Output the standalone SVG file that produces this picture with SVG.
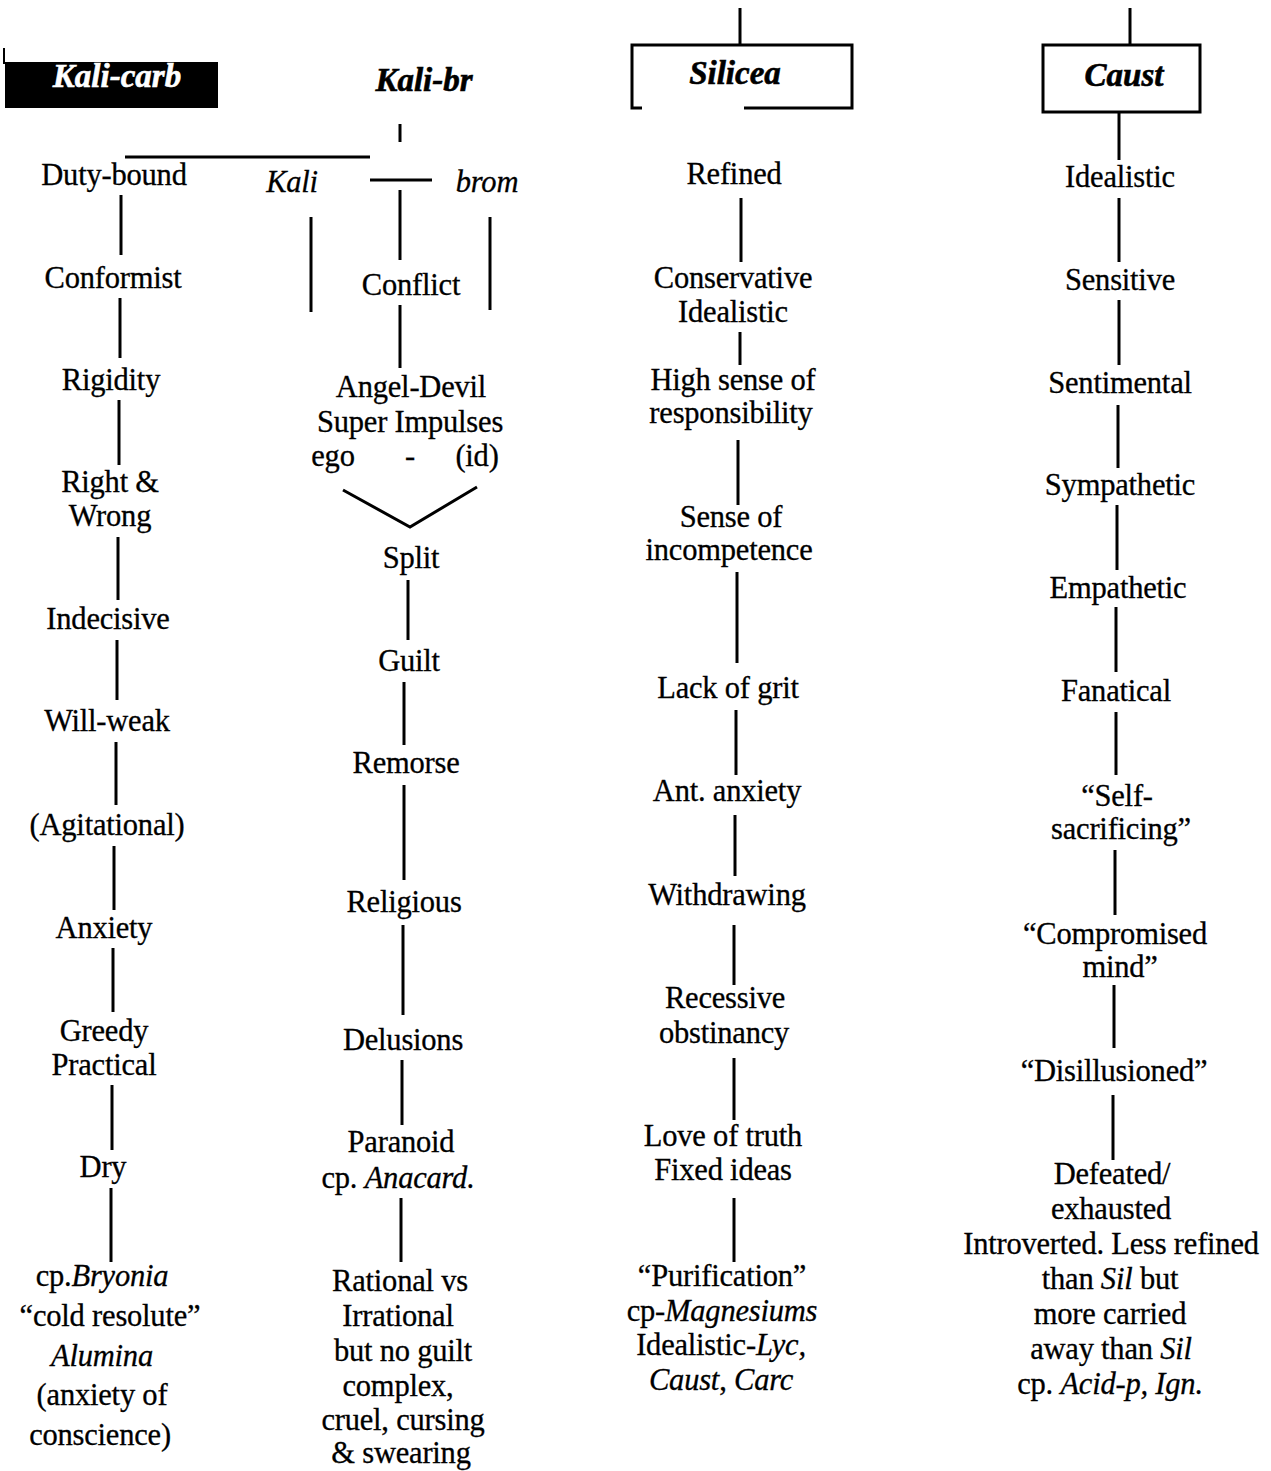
<svg xmlns="http://www.w3.org/2000/svg" width="1271" height="1471" viewBox="0 0 1271 1471">
<style>
text{font-family:"Liberation Serif","Times New Roman",serif;font-size:30.5px;fill:#000;text-anchor:middle;letter-spacing:-0.2px;stroke:#000;stroke-width:0.3}
.h{font-weight:bold;font-style:italic;font-size:33px;letter-spacing:0;stroke-width:0.6}
.i{font-style:italic}
.w{fill:#fff;stroke:#fff}
.c line,.c polyline{stroke:#000;stroke-width:3;fill:none}
.box{fill:none;stroke:#000;stroke-width:3}
</style>
<rect width="1271" height="1471" fill="#fff"/>
<g id="kali-carb"><rect x="5" y="62" width="213" height="46" fill="#000"/><line x1="4" y1="48" x2="4" y2="64" stroke="#000" stroke-width="2"/><text class="h w" x="117" y="87">Kali-carb</text></g>
<g id="kali-br"><text class="h" x="424" y="91">Kali-br</text></g>
<g id="silicea"><polyline class="box" points="642,108 632,108 632,45 852,45 852,108 744,108"/><text class="h" x="735" y="84">Silicea</text></g>
<g id="caust"><rect class="box" x="1043" y="45" width="157" height="67"/><text class="h" x="1124" y="86">Caust</text></g>

<g class="c" id="connectors">
<line x1="740" y1="8" x2="740" y2="45"/>
<line x1="1130" y1="8" x2="1130" y2="45"/>
<line x1="1119" y1="112" x2="1119" y2="160"/>
<line x1="125" y1="157" x2="370" y2="157" stroke-width="4"/>
<line x1="400" y1="124" x2="400" y2="142"/>
<line x1="370" y1="180" x2="432" y2="180"/>
<line x1="400" y1="190" x2="400" y2="260"/>
<line x1="311" y1="217" x2="311" y2="312"/>
<line x1="490" y1="217" x2="490" y2="310"/>
<line x1="400" y1="305" x2="400" y2="368"/>
<polyline points="343,490 410,527 477,487"/>
<line x1="408" y1="580" x2="408" y2="640"/>
<line x1="404" y1="682" x2="404" y2="745"/>
<line x1="404" y1="785" x2="404" y2="880"/>
<line x1="403" y1="925" x2="403" y2="1015"/>
<line x1="402" y1="1060" x2="402" y2="1125"/>
<line x1="401" y1="1198" x2="401" y2="1262"/>
<line x1="121" y1="195" x2="121" y2="255"/>
<line x1="120" y1="298" x2="120" y2="358"/>
<line x1="119" y1="400" x2="119" y2="465"/>
<line x1="118" y1="537" x2="118" y2="600"/>
<line x1="117" y1="640" x2="117" y2="700"/>
<line x1="116" y1="742" x2="116" y2="805"/>
<line x1="114" y1="846" x2="114" y2="910"/>
<line x1="113" y1="948" x2="113" y2="1012"/>
<line x1="112" y1="1085" x2="112" y2="1150"/>
<line x1="111" y1="1188" x2="111" y2="1262"/>
<line x1="741" y1="198" x2="741" y2="262"/>
<line x1="740" y1="332" x2="740" y2="365"/>
<line x1="738" y1="440" x2="738" y2="505"/>
<line x1="737" y1="572" x2="737" y2="663"/>
<line x1="736" y1="710" x2="736" y2="775"/>
<line x1="735" y1="815" x2="735" y2="876"/>
<line x1="734" y1="925" x2="734" y2="985"/>
<line x1="734" y1="1058" x2="734" y2="1120"/>
<line x1="734" y1="1198" x2="734" y2="1262"/>
<line x1="1119" y1="198" x2="1119" y2="262"/>
<line x1="1119" y1="300" x2="1119" y2="365"/>
<line x1="1118" y1="405" x2="1118" y2="468"/>
<line x1="1117" y1="505" x2="1117" y2="570"/>
<line x1="1116" y1="607" x2="1116" y2="672"/>
<line x1="1116" y1="712" x2="1116" y2="775"/>
<line x1="1115" y1="850" x2="1115" y2="915"/>
<line x1="1114" y1="985" x2="1114" y2="1048"/>
<line x1="1113" y1="1095" x2="1113" y2="1160"/>
</g>

<g id="c1-duty"><text x="114" y="185">Duty-bound</text></g>
<g id="c1-conformist"><text x="113" y="288">Conformist</text></g>
<g id="c1-rigidity"><text x="111" y="390">Rigidity</text></g>
<g id="c1-right"><text x="110" y="492">Right &amp;</text><text x="110" y="526">Wrong</text></g>
<g id="c1-indecisive"><text x="108" y="629">Indecisive</text></g>
<g id="c1-willweak"><text x="107" y="731">Will-weak</text></g>
<g id="c1-agitational"><text x="107" y="835">(Agitational)</text></g>
<g id="c1-anxiety"><text x="104" y="938">Anxiety</text></g>
<g id="c1-greedy"><text x="104" y="1041">Greedy</text><text x="104" y="1075">Practical</text></g>
<g id="c1-dry"><text x="103" y="1177">Dry</text></g>
<g id="c1-bryonia"><text x="102" y="1286">cp.<tspan class="i">Bryonia</tspan></text><text x="110" y="1326">“cold resolute”</text><text class="i" x="102" y="1366">Alumina</text><text x="102" y="1405">(anxiety of</text><text x="100" y="1445">conscience)</text></g>

<g id="c2-kali"><text class="i" x="292" y="192">Kali</text></g>
<g id="c2-brom"><text class="i" x="487" y="192">brom</text></g>
<g id="c2-conflict"><text x="411" y="295">Conflict</text></g>
<g id="c2-angel"><text x="411" y="397">Angel-Devil</text><text x="410" y="432">Super Impulses</text><text x="333" y="466">ego</text><text x="410" y="466">-</text><text x="477" y="466">(id)</text></g>
<g id="c2-split"><text x="411" y="568">Split</text></g>
<g id="c2-guilt"><text x="409" y="671">Guilt</text></g>
<g id="c2-remorse"><text x="406" y="773">Remorse</text></g>
<g id="c2-religious"><text x="404" y="912">Religious</text></g>
<g id="c2-delusions"><text x="403" y="1050">Delusions</text></g>
<g id="c2-paranoid"><text x="401" y="1152">Paranoid</text><text x="398" y="1188">cp. <tspan class="i">Anacard.</tspan></text></g>
<g id="c2-rational"><text x="400" y="1291">Rational vs</text><text x="398" y="1326">Irrational</text><text x="403" y="1361">but no guilt</text><text x="398" y="1396">complex,</text><text x="403" y="1430">cruel, cursing</text><text x="401" y="1463">&amp; swearing</text></g>

<g id="c3-refined"><text x="734" y="184">Refined</text></g>
<g id="c3-conservative"><text x="733" y="288">Conservative</text><text x="733" y="322">Idealistic</text></g>
<g id="c3-high"><text x="733" y="390">High sense of</text><text x="731" y="423">responsibility</text></g>
<g id="c3-sense"><text x="731" y="527">Sense of</text><text x="729" y="560">incompetence</text></g>
<g id="c3-lack"><text x="728" y="698">Lack of grit</text></g>
<g id="c3-ant"><text x="727" y="801">Ant. anxiety</text></g>
<g id="c3-withdrawing"><text x="727" y="905">Withdrawing</text></g>
<g id="c3-recessive"><text x="725" y="1008">Recessive</text><text x="724" y="1043">obstinancy</text></g>
<g id="c3-love"><text x="723" y="1146">Love of truth</text><text x="723" y="1180">Fixed ideas</text></g>
<g id="c3-purification"><text x="722" y="1286">“Purification”</text><text x="722" y="1321">cp-<tspan class="i">Magnesiums</tspan></text><text x="721" y="1355">Idealistic-<tspan class="i">Lyc,</tspan></text><text x="721" y="1390"><tspan class="i">Caust</tspan>, <tspan class="i">Carc</tspan></text></g>

<g id="c4-idealistic"><text x="1120" y="187">Idealistic</text></g>
<g id="c4-sensitive"><text x="1120" y="290">Sensitive</text></g>
<g id="c4-sentimental"><text x="1120" y="393">Sentimental</text></g>
<g id="c4-sympathetic"><text x="1120" y="495">Sympathetic</text></g>
<g id="c4-empathetic"><text x="1118" y="598">Empathetic</text></g>
<g id="c4-fanatical"><text x="1116" y="701">Fanatical</text></g>
<g id="c4-self"><text x="1117" y="806">“Self-</text><text x="1121" y="839">sacrificing”</text></g>
<g id="c4-compromised"><text x="1115" y="944">“Compromised</text><text x="1120" y="977">mind”</text></g>
<g id="c4-disillusioned"><text x="1114" y="1081">“Disillusioned”</text></g>
<g id="c4-defeated"><text x="1112" y="1184">Defeated/</text><text x="1111" y="1219">exhausted</text><text x="1111" y="1254">Introverted. Less refined</text><text x="1110" y="1289">than <tspan class="i">Sil</tspan> but</text><text x="1110" y="1324">more carried</text><text x="1111" y="1359">away than <tspan class="i">Sil</tspan></text><text x="1110" y="1394">cp. <tspan class="i">Acid-p, Ign.</tspan></text></g>
</svg>
